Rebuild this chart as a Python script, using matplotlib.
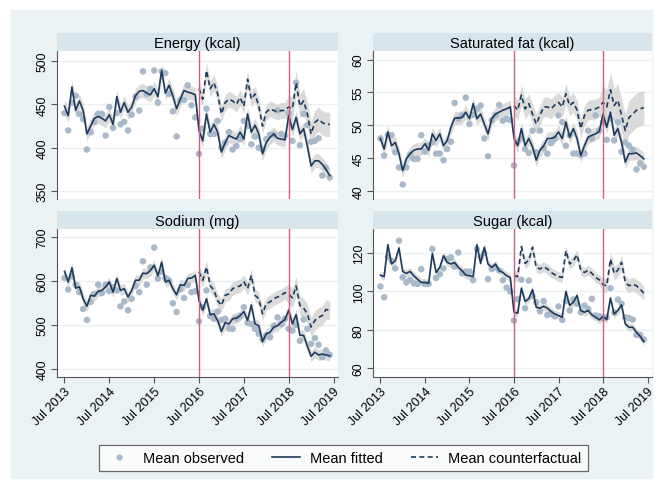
import numpy as np
import matplotlib
matplotlib.use('Agg')
import matplotlib.pyplot as plt
from matplotlib.lines import Line2D
from matplotlib.patches import Rectangle

plt.rcParams['font.family'] = ['Liberation Sans', 'DejaVu Sans']

# ------------------------------------------------------------
# data: monthly means, Jul 2013 .. Jun 2019 (72 months)
# counterfactual starts Jul 2016 (month 36)
# ------------------------------------------------------------
tick_labels = ['Jul 2013', 'Jul 2014', 'Jul 2015', 'Jul 2016',
               'Jul 2017', 'Jul 2018', 'Jul 2019']
interventions = [36, 60]  # Jul 2016, Jul 2018

energy_obs = [440, 420, 452, 460, 439, 433, 398, 418, 430, 439, 439, 414,
              447, 423, 440, 427, 430, 420, 438, 459, 443, 488, 462, 468,
              489, 452, 488, 486, 462, 442, 413, 455, 455, 472, 449, 435,
              393, 422, 445, 416, 416, 431, 400, 406, 418, 398, 402, 410,
              431, 425, 404, 413, 400, 398, 410, 415, 415, 443, 416, 414,
              440, 408, 475, 403, 439, 426, 407, 408, 411, 368, 377, 366]
energy_fit = [448, 437, 470, 443, 454, 443, 416, 425, 434, 436, 434, 431,
              438, 427, 459, 441, 452, 441, 447, 460, 465, 466, 463, 461,
              468, 459, 489, 463, 472, 460, 445, 456, 466, 464, 463, 461,
              420, 408, 439, 418, 427, 418, 395, 406, 414, 412, 410, 418,
              410, 439, 418, 426, 416, 393, 406, 412, 416, 411, 410, 409,
              437, 421, 435, 416, 422, 402, 379, 385, 385, 381, 375, 368]
energy_cf = [468, 456, 489, 468, 475, 462, 439, 452, 456, 454, 450, 458,
             448, 479, 456, 462, 448, 425, 441, 445, 443, 441, 443, 443,
             447, 445, 475, 448, 454, 439, 416, 429, 433, 429, 427, 427]

satfat_obs = [48.0, 45.4, 48.5, 48.5, 45.9, 43.6, 41.0, 43.6, 45.5, 44.9, 44.9, 48.5,
              46.0, 47.0, 47.4, 45.7, 45.7, 44.7, 46.4, 47.5, 53.4, 51.0, 51.5, 54.2,
              50.2, 51.6, 52.5, 53.0, 48.0, 45.3, 50.8, 51.5, 53.1, 50.7, 51.0, 50.8,
              43.9, 47.5, 48.0, 46.4, 45.8, 49.2, 45.9, 49.2, 46.5, 45.7, 47.3, 48.0,
              51.5, 50.5, 46.9, 48.5, 45.7, 45.7, 45.5, 45.7, 49.2, 48.0, 51.5, 49.2,
              50.5, 47.8, 51.0, 47.7, 50.5, 46.0, 47.4, 46.9, 46.3, 43.3, 44.2, 43.7]
satfat_fit = [48.0, 46.4, 49.0, 46.9, 47.4, 45.7, 43.1, 44.9, 45.7, 46.2, 46.4, 46.4,
              47.2, 46.2, 48.7, 47.7, 48.7, 46.9, 47.7, 49.7, 51.1, 51.1, 51.2, 52.0,
              51.0, 53.3, 51.0, 51.7, 50.2, 48.7, 51.0, 51.7, 52.0, 52.3, 52.5, 52.8,
              48.0, 46.9, 49.5, 46.9, 48.0, 46.7, 44.7, 46.2, 46.9, 48.0, 48.0, 48.2,
              49.0, 48.0, 50.5, 48.2, 49.5, 48.0, 45.4, 46.9, 48.2, 48.5, 48.7, 49.1,
              51.7, 49.7, 52.0, 48.5, 49.5, 47.4, 44.4, 45.7, 45.7, 45.8, 45.4, 44.9]
satfat_cf = [53.0, 52.3, 54.6, 52.5, 53.3, 51.7, 50.2, 51.5, 52.8, 52.8, 52.5, 53.1,
             53.5, 52.8, 54.8, 53.0, 53.5, 52.3, 49.5, 51.5, 52.3, 52.4, 52.5, 52.8,
             53.5, 52.8, 55.4, 53.0, 53.8, 51.5, 49.2, 51.2, 51.7, 52.3, 52.5, 52.7]

sodium_obs = [606, 580, 610, 591, 574, 536, 511, 552, 570, 591, 572, 591,
              576, 585, 578, 542, 553, 533, 559, 588, 574, 644, 591, 630,
              675, 605, 620, 606, 600, 549, 529, 580, 561, 590, 574, 576,
              508, 540, 578, 520, 514, 530, 511, 514, 492, 491, 514, 520,
              540, 505, 502, 491, 480, 467, 476, 472, 498, 517, 502, 514,
              491, 487, 500, 464, 512, 491, 457, 470, 455, 427, 442, 432]
sodium_fit = [621, 597, 629, 583, 586, 559, 542, 567, 565, 576, 578, 586,
              597, 574, 605, 578, 582, 563, 578, 601, 601, 617, 616, 623,
              635, 611, 642, 597, 601, 582, 568, 591, 589, 605, 606, 612,
              555, 533, 559, 523, 525, 510, 485, 505, 502, 514, 515, 521,
              530, 510, 545, 502, 498, 462, 480, 483, 495, 498, 506, 512,
              533, 502, 523, 477, 476, 452, 429, 438, 432, 434, 432, 430]
sodium_cf = [620, 601, 631, 589, 578, 555, 544, 567, 570, 582, 586, 588,
             598, 582, 612, 567, 559, 525, 548, 552, 559, 563, 567, 573,
             570, 561, 588, 544, 538, 525, 495, 510, 517, 521, 535, 533]

sugar_obs = [102.6, 97.0, 118.0, 116.0, 112.0, 126.4, 107.3, 104.7, 106.0, 104.2, 103.9, 111.6,
             103.9, 104.0, 122.1, 107.0, 109.0, 112.0, 116.9, 117.7, 113.0, 120.3, 109.4, 110.4,
             110.4, 105.9, 122.0, 118.0, 120.0, 106.4, 111.7, 112.5, 111.0, 105.9, 102.0, 100.0,
             84.9, 96.0, 106.1, 91.3, 105.7, 97.6, 94.4, 89.7, 95.0, 87.8, 88.3, 87.0,
             92.2, 85.2, 95.0, 90.1, 95.8, 93.6, 89.2, 92.7, 91.0, 96.2, 87.5, 87.1,
             86.1, 86.5, 101.7, 89.0, 95.8, 93.6, 86.6, 86.1, 85.4, 77.4, 77.4, 75.0]
sugar_fit = [108.5, 107.7, 124.3, 114.3, 116.0, 122.6, 110.4, 109.4, 110.4, 108.2, 106.4, 104.7,
             104.7, 104.2, 119.8, 109.9, 112.5, 118.6, 115.1, 114.3, 115.1, 112.5, 110.8, 108.5,
             108.2, 107.7, 124.3, 114.6, 123.0, 114.3, 112.5, 114.3, 110.8, 109.9, 108.2, 107.3,
             89.2, 88.7, 101.7, 94.8, 96.2, 101.0, 91.8, 91.3, 92.3, 91.3, 89.6, 88.3,
             87.5, 86.6, 100.0, 92.7, 94.4, 97.9, 90.1, 89.2, 90.1, 87.8, 86.6, 85.2,
             87.0, 85.4, 96.5, 88.3, 90.1, 93.0, 83.1, 81.4, 81.4, 78.8, 76.7, 73.9]
sugar_cf = [108.2, 107.7, 123.3, 114.6, 116.3, 123.0, 112.5, 111.7, 112.9, 111.7, 109.9, 108.7,
            107.7, 107.3, 121.2, 114.3, 116.0, 119.1, 111.1, 109.9, 111.1, 109.4, 107.3, 106.1,
            103.5, 103.0, 116.9, 109.4, 111.1, 115.1, 104.7, 103.0, 103.8, 103.0, 101.2, 99.1]

# half-widths of the grey confidence bands (fitted, cf before/after Jul 2018)
panels = [
    ('Energy (kcal)', energy_obs, energy_fit, energy_cf, (8, 9, 14), (341, 511.5), [350, 400, 450, 500]),
    ('Saturated fat (kcal)', satfat_obs, satfat_fit, satfat_cf, (1.0, 1.5, 2.6), (38.8, 61.3), [40, 45, 50, 55, 60]),
    ('Sodium (mg)', sodium_obs, sodium_fit, sodium_cf, (12, 15, 22), (382, 717), [400, 500, 600, 700]),
    ('Sugar (kcal)', sugar_obs, sugar_fit, sugar_cf, (2.0, 2.6, 3.6), (55.5, 132.5), [60, 80, 100, 120]),
]

navy = '#1d3a5c'
obs_col = '#a9b9c9'
band_col = '#d2d2d2'
red = '#d45c80'
strip_col = '#d8e5eb'
bg_col = '#eaf2f4'
W, H = 663, 489

fig = plt.figure(figsize=(W / 100, H / 100), dpi=100)
fig.patch.set_facecolor('white')
fig.patches.append(Rectangle((11 / W, 1 - 479 / H), 641 / W, 468 / H,
                             transform=fig.transFigure, color=bg_col, zorder=-10))

# pixel boxes: (left, right) for columns, (top strip, plot top, plot bottom) for rows
cols = [(57, 338), (373, 652)]
rows = [(34, 52, 200), (212, 230, 378)]

x = np.arange(len(energy_obs))
xcf = np.arange(36, 72)

for k, (title, obs, fit, cf, hw, ylim, yticks) in enumerate(panels):
    r, c = divmod(k, 2)
    l, rr = cols[c]
    st, pt, pb = rows[r]
    ax = fig.add_axes([l / W, 1 - pb / H, (rr - l) / W, (pb - pt) / H])
    sax = fig.add_axes([l / W, 1 - pt / H, (rr - l) / W, (pt - st) / H])
    sax.set_facecolor(strip_col)
    sax.set_xticks([]); sax.set_yticks([])
    for s in sax.spines.values():
        s.set_visible(False)
    sax.text(0.5, 0.45, title, ha='center', va='center', fontsize=10.5)

    fit = np.array(fit); cf = np.array(cf)
    hw_cf = np.where(xcf < 60, hw[1], hw[2])
    ax.fill_between(x, fit - hw[0], fit + hw[0], color=band_col, alpha=0.8, lw=0, zorder=1)
    ax.fill_between(xcf, cf - hw_cf, cf + hw_cf, color=band_col, alpha=0.8, lw=0, zorder=1)
    ax.scatter(x, obs, s=22, color=obs_col, edgecolors='none', zorder=2)
    ax.plot(x, fit, color=navy, lw=1.2, zorder=3)
    ax.plot(xcf, cf, color=navy, lw=1.2, ls=(0, (3, 2)), zorder=3)
    for v in interventions:
        ax.axvline(v, color=red, lw=1.0, zorder=4)

    ax.set_xlim(-2, 73.2)
    ax.set_ylim(*ylim)
    ax.set_yticks(yticks)
    ax.set_yticklabels([str(t) for t in yticks], rotation=90, va='center', fontsize=8.8)
    ax.grid(axis='y', color=bg_col, lw=1.0, zorder=0)
    ax.set_axisbelow(True)
    for s in ['top', 'right']:
        ax.spines[s].set_visible(False)
    ax.spines['left'].set_color('#555555')
    ax.tick_params(axis='y', length=4, color='#555555', pad=2)
    ax.set_xticks(range(0, 73, 12))
    if r == 1:
        ax.spines['bottom'].set_color('#555555')
        ax.set_xticklabels(tick_labels, rotation=45, ha='right',
                           rotation_mode='anchor', fontsize=9)
        ax.tick_params(axis='x', length=4, color='#555555', pad=2)
    else:
        ax.spines['bottom'].set_visible(False)
        ax.tick_params(axis='x', length=0, labelbottom=False)

handles = [
    Line2D([], [], ls='none', marker='o', ms=4.5, color=obs_col, mec='none'),
    Line2D([], [], color=navy, lw=1.2),
    Line2D([], [], color=navy, lw=1.2, ls=(0, (3, 2))),
]
leg = fig.legend(handles, ['Mean observed', 'Mean fitted', 'Mean counterfactual'],
                 loc='center', bbox_to_anchor=(343.5 / W, 1 - 459 / H), ncol=3,
                 fontsize=10.5, frameon=True, fancybox=False, handlelength=1.9,
                 handletextpad=0.7, columnspacing=1.9, borderpad=0.4)
leg.get_frame().set_edgecolor('#444444')
leg.get_frame().set_linewidth(0.9)

fig.savefig('out.png', dpi=100, facecolor=fig.get_facecolor())
